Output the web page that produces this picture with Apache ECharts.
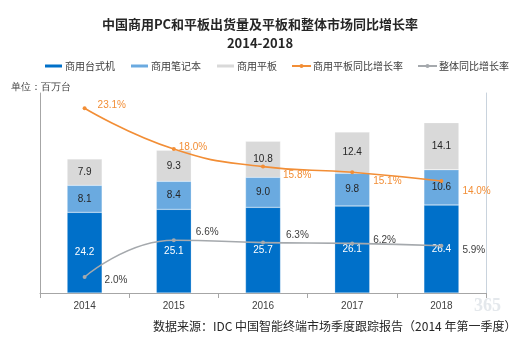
<!DOCTYPE html>
<html><head><meta charset="utf-8">
<script src="https://cdn.jsdelivr.net/npm/echarts@6/dist/echarts.min.js"></script>
<style>html,body{margin:0;padding:0;background:#fff}#c{width:520px;height:349px}</style>
</head><body><div id="c"></div>
<script>
var categories = ['2014','2015','2016','2017','2018'];
var desktop = [24.2, 25.1, 25.7, 26.1, 26.4];
var notebook = [8.1, 8.4, 9.0, 9.8, 10.6];
var tablet = [7.9, 9.3, 10.8, 12.4, 14.1];
var tabletGrowth = [23.1, 18.0, 15.8, 15.1, 14.0];
var totalGrowth = [2.0, 6.6, 6.3, 6.2, 5.9];
var seriesNames = ['商用台式机','商用笔记本','商用平板','商用平板同比增长率','整体同比增长率'];

var orangeOff = [[6,-3],[-2,-2],[13,9],[14,9],[14,10]];
var grayOff = [[13,3],[15,-8],[16,-7],[14,-3],[14,4]];

var chart = echarts.init(document.getElementById('c'));
var font = 'Liberation Sans, Arial, sans-serif';
var cjk = '"Noto Sans CJK SC", sans-serif';
function barSeries(name, data, color, labelColor){
  return {name:name, type:'bar', stack:'s', data:data, barWidth:35,
    itemStyle:{color:color, borderColor:'#ffffff', borderWidth:0.5, borderType:'dotted'},
    label:{show:true, position:'inside', color:labelColor, fontSize:10, fontFamily:font,
      formatter:function(p){return p.value.toFixed(1);}}};
}
function lineSeries(name, data, color, offs){
  return {name:name, type:'line', yAxisIndex:1, smooth:true, data:data.map(function(v,i){
      return {value:v, label:{offset:offs[i]}};}),
    symbol:'circle', symbolSize:4, lineStyle:{color:color, width:1.6}, itemStyle:{color:color},
    label:{show:true, position:'right', distance:5, color:color==='#F28E36'?'#F28E36':'#404040', fontSize:10, fontFamily:font,
      formatter:function(p){return p.value.toFixed(1)+'%';}}};
}
chart.setOption({
  animation:false,
  backgroundColor:'#fff',
  title:{text:'中国商用PC和平板出货量及平板和整体市场同比增长率\n2014-2018', left:'center', top:10,
    textStyle:{fontSize:13, fontWeight:'bold', color:'#262626', lineHeight:19, fontFamily:cjk}},
  legend:{top:56, left:38, itemWidth:19, itemHeight:5, itemGap:14,
    textStyle:{fontSize:10, color:'#404040', fontFamily:cjk, padding:[0,0,0,-3]},
    data:seriesNames},
  grid:{left:40, right:34, top:93, bottom:56},
  xAxis:{type:'category', data:categories,
    axisLine:{lineStyle:{color:'#A6A6A6'}}, axisTick:{show:true, lineStyle:{color:'#A6A6A6'}},
    axisLabel:{color:'#404040', fontSize:10, fontFamily:font, margin:8}},
  yAxis:[{type:'value', min:0, max:60, splitLine:{show:false}, axisLabel:{show:false}, axisTick:{show:false},
      axisLine:{show:true, lineStyle:{color:'#A6A6A6'}}},
    {type:'value', min:0, max:25, splitLine:{show:false}, axisLabel:{show:false}, axisTick:{show:false},
      axisLine:{show:true, lineStyle:{color:'#C9D3DD'}}}],
  graphic:[
    {type:'text', left:11, top:82, style:{text:'单位：百万台', fontSize:10, fill:'#404040', font:'10px "Noto Sans CJK SC"'}},
    {type:'text', left:153, top:320, style:{text:'数据来源：IDC 中国智能终端市场季度跟踪报告（2014 年第一季度）', fill:'#262626', font:'12px "Noto Sans CJK SC"'}},
    {type:'text', left:474, top:297, style:{text:'365', fill:'#E4E8EC', font:'bold 18px Liberation Serif'}}
  ],
  series:[
    barSeries(seriesNames[0], desktop, '#0070C9', '#ffffff'),
    barSeries(seriesNames[1], notebook, '#6AAAE0', '#262626'),
    barSeries(seriesNames[2], tablet, '#D9D9D9', '#262626'),
    lineSeries(seriesNames[3], tabletGrowth, '#F28E36', orangeOff),
    lineSeries(seriesNames[4], totalGrowth, '#A5A9AD', grayOff)
  ]
});
</script></body></html>
